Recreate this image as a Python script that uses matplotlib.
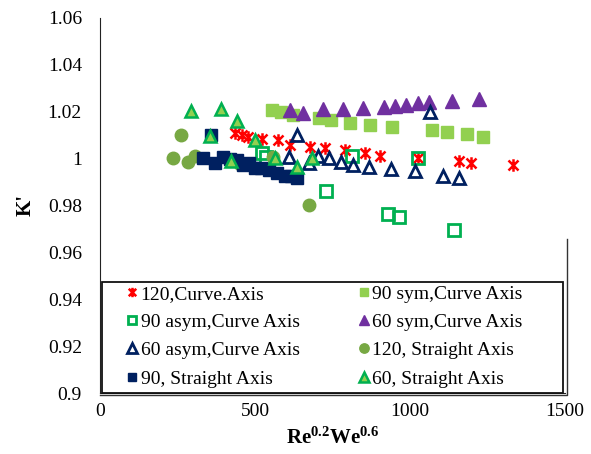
import matplotlib
matplotlib.use("Agg")
import matplotlib.pyplot as plt
from matplotlib.path import Path
from matplotlib.patches import Rectangle
from matplotlib.lines import Line2D
from matplotlib.ticker import FuncFormatter

plt.rcParams['font.family'] = ['Liberation Serif', 'DejaVu Serif']
plt.rcParams['mathtext.fontset'] = 'custom'
plt.rcParams['mathtext.rm'] = 'Liberation Serif'
plt.rcParams['mathtext.bf'] = 'Liberation Serif:bold'

# ---- data ----
c120_x = [435, 457, 478, 521, 575, 613, 677, 726, 790, 855, 903, 1027, 1159, 1196, 1331]
c120_y = [1.0110, 1.0101, 1.0094, 1.0085, 1.0078, 1.0060, 1.0050, 1.0046, 1.0036, 1.0022, 1.0013, 1.0003, 0.9992, 0.9983, 0.9972]

s90_x = [554, 584, 622, 706, 745, 806, 870, 941, 1072, 1118, 1183, 1237]
s90_y = [1.0208, 1.0197, 1.0188, 1.0172, 1.0164, 1.0153, 1.0142, 1.0134, 1.0122, 1.0113, 1.0103, 1.0093]

a90_x = [521, 534, 729, 812, 930, 966, 1027, 1143]
a90_y = [1.0023, 1.0009, 0.9860, 1.0012, 0.9763, 0.9749, 1.0002, 0.9695]

s60_x = [613, 654, 720, 785, 847, 916, 952, 986, 1027, 1062, 1134, 1224]
s60_y = [1.0206, 1.0194, 1.0212, 1.0211, 1.0215, 1.0220, 1.0224, 1.0230, 1.0236, 1.0242, 1.0247, 1.0253]

a60_x = [611, 634, 674, 703, 740, 776, 815, 869, 938, 1016, 1065, 1105, 1159]
a60_y = [1.0009, 1.0101, 0.9981, 1.0011, 1.0003, 0.9987, 0.9973, 0.9963, 0.9955, 0.9949, 1.0200, 0.9926, 0.9916]

st120_x = [234, 260, 285, 306, 452, 559, 675]
st120_y = [1.0004, 1.0101, 0.9987, 1.0013, 0.9975, 1.0008, 0.9803]

st90_x = [333, 358, 371, 398, 420, 441, 462, 480, 500, 520, 545, 570, 597, 615, 634]
st90_y = [1.0002, 1.0099, 0.9980, 1.0009, 0.9998, 0.9994, 0.9972, 0.9982, 0.9962, 0.9962, 0.9952, 0.9940, 0.9928, 0.9924, 0.9916]

st60_x = [293, 355, 389, 421, 441, 500, 565, 634, 683]
st60_y = [1.0202, 1.0098, 1.0212, 0.9990, 1.0161, 1.0080, 1.0002, 0.9966, 1.0002]

labels = ["120,Curve.Axis", "90 sym,Curve Axis", "90 asym,Curve Axis", "60 sym,Curve Axis",
          "60 asym,Curve Axis", "120, Straight Axis", "90, Straight Axis", "60, Straight Axis"]

x_ticks = [0, 500, 1000, 1500]
y_ticks = [0.90, 0.92, 0.94, 0.96, 0.98, 1.00, 1.02, 1.04, 1.06]

# Excel-like star marker: X plus a vertical bar
star = Path([(-1, -1), (1, 1), (-1, 1), (1, -1), (0, -1.25), (0, 1.25)],
            [Path.MOVETO, Path.LINETO, Path.MOVETO, Path.LINETO, Path.MOVETO, Path.LINETO])

fig = plt.figure(figsize=(5.91, 4.54), dpi=100)
ax = fig.add_axes([100/591, 1-393/454, 465/591, 375/454])

h0, = ax.plot(c120_x, c120_y, ls='none', marker=star, ms=9, mew=1.8, color='#FF0000')
h1, = ax.plot(s90_x, s90_y, ls='none', marker='s', ms=8, mfc='#92D050', mec='#92D050', mew=1)
h2, = ax.plot(a90_x, a90_y, ls='none', marker='s', ms=8, mfc='none', mec='#00B050', mew=2)
h3, = ax.plot(s60_x, s60_y, ls='none', marker='^', ms=9.5, mfc='#7030A0', mec='#7030A0', mew=1)
h4, = ax.plot(a60_x, a60_y, ls='none', marker='^', ms=9, mfc='none', mec='#002060', mew=2)
h5, = ax.plot(st120_x, st120_y, ls='none', marker='o', ms=9, mfc='#77A843', mec='#77A843', mew=1)
h6, = ax.plot(st90_x, st90_y, ls='none', marker='s', ms=8, mfc='#002060', mec='#002060', mew=1)
h7, = ax.plot(st60_x, st60_y, ls='none', marker='^', ms=9, mfc='#92D050', mec='#00B050', mew=1.8)

ax.set_xlim(0, 1500)
ax.set_ylim(0.9, 1.06)
ax.set_xticks(x_ticks)
ax.set_yticks(y_ticks)
ax.yaxis.set_major_formatter(FuncFormatter(lambda v, p: f"{v:g}"))
ax.tick_params(axis='both', length=0, labelsize=14)
ax.tick_params(axis='y', pad=13)
ax.tick_params(axis='x', pad=7)
for s in ['top', 'right']:
    ax.spines[s].set_visible(False)
ax.spines['left'].set_color('#222222')
ax.spines['bottom'].set_color('#222222')

ax.set_ylabel("K'", fontsize=15, fontweight='bold', labelpad=9)
ax.set_xlabel(r'$\mathbf{Re^{0.2}We^{0.6}}$', fontsize=15, labelpad=6)

# legend frame and partial outer border
ax.add_patch(Rectangle((0.004, 0.0), 0.992, 0.296, transform=ax.transAxes,
                       fill=True, facecolor='white', edgecolor='#111111', lw=1.3, zorder=5,
                       clip_on=False))
ax.add_line(Line2D([0.0, 1.004, 1.004], [-0.005, -0.005, (393-250)/375 + 0.03],
                   transform=ax.transAxes, color='#333333', lw=1.0, zorder=5, clip_on=False))

handles = [h0, h2, h4, h6, h1, h3, h5, h7]
labs = [labels[0], labels[2], labels[4], labels[6], labels[1], labels[3], labels[5], labels[7]]
leg = ax.legend(handles, labs, ncol=2, loc='upper left',
                bbox_to_anchor=((126-100)/465, (393-285)/375), frameon=False,
                fontsize=14, handlelength=0.6, handletextpad=0.15, columnspacing=3.0,
                labelspacing=0.55, borderpad=0, borderaxespad=0, markerscale=0.75)
leg.set_zorder(6)

fig.savefig('out.png', dpi=100)
